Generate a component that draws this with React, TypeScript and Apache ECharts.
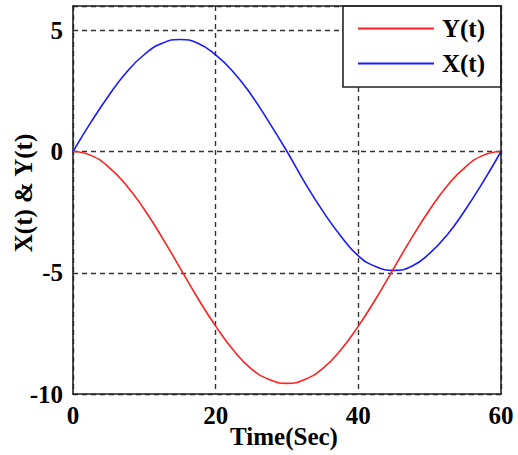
import React, { useEffect, useRef } from "react";
import * as echarts from "echarts";

// Sample times (s)
const times = [
  0, 2.5, 5, 7.5, 10, 12.5, 15, 17.5, 20, 22.5, 25, 27.5, 30,
  32.5, 35, 37.5, 40, 42.5, 45, 47.5, 50, 52.5, 55, 57.5, 60,
];

// Horizontal displacement X(t)
const xValues = [
  0, 1.2, 2.3, 3.27, 4.0, 4.46, 4.62, 4.46, 3.98, 3.27, 2.33, 1.2, 0,
  -1.28, -2.45, -3.47, -4.3, -4.75, -4.9, -4.73, -4.2, -3.42, -2.4, -1.25, 0,
];

// Vertical displacement Y(t)
const yValues = [
  0, -0.16, -0.64, -1.4, -2.39, -3.55, -4.8, -6.05, -7.2, -8.2, -8.96, -9.4, -9.56,
  -9.4, -8.95, -8.2, -7.2, -6.05, -4.8, -3.55, -2.4, -1.4, -0.64, -0.16, 0,
];

const xTicks = { min: 0, max: 60, interval: 20 };
const yTicks = { min: -10, max: 6, interval: 5 };

const FONT = "'Liberation Serif', 'Times New Roman', serif";

export default function App() {
  const ref = useRef<HTMLDivElement>(null);

  useEffect(() => {
    if (!ref.current) return;
    const chart = echarts.init(ref.current, undefined, { renderer: "svg" });

    const labelStyle = {
      fontFamily: FONT,
      fontWeight: "bold" as const,
      fontSize: 25,
      color: "#000",
    };
    const dashed = {
      show: true,
      lineStyle: { color: "#333", type: [5, 4] as number[], width: 1.4 },
    };
    const border = {
      show: true,
      onZero: false,
      lineStyle: { color: "#222", width: 1.6 },
    };

    chart.setOption({
      animation: false,
      backgroundColor: "#fff",
      grid: {
        left: 73,
        right: 17,
        top: 6,
        bottom: 61,
        containLabel: false,
        outerBoundsMode: "none",
      },
      legend: {
        orient: "vertical",
        right: 17,
        top: 6,
        data: ["Y(t)", "X(t)"],
        icon: "rect",
        backgroundColor: "#fff",
        borderColor: "#222",
        borderWidth: 1.6,
        borderRadius: 0,
        padding: [10, 16, 11, 15],
        itemGap: 10,
        itemWidth: 76,
        itemHeight: 2,
        textStyle: { ...labelStyle, lineHeight: 25, padding: [0, 0, 0, 3] },
      },
      xAxis: [
        {
          type: "value",
          position: "bottom",
          min: xTicks.min,
          max: xTicks.max,
          interval: xTicks.interval,
          name: "Time(Sec)",
          nameLocation: "middle",
          nameGap: 30,
          nameMoveOverlap: false,
          nameTextStyle: { ...labelStyle, padding: [0, 6, 0, 0] },
          axisLine: border,
          axisTick: { show: false },
          axisLabel: { ...labelStyle, margin: 9 },
          splitLine: dashed,
        },
        {
          type: "value",
          position: "top",
          min: xTicks.min,
          max: xTicks.max,
          interval: xTicks.interval,
          z: 5,
          axisLine: border,
          axisTick: { show: false },
          axisLabel: { show: false },
          splitLine: { show: false },
        },
      ],
      yAxis: [
        {
          type: "value",
          position: "left",
          min: yTicks.min,
          max: yTicks.max,
          interval: yTicks.interval,
          name: "X(t) & Y(t)",
          nameLocation: "middle",
          nameGap: 37,
          nameMoveOverlap: false,
          nameTextStyle: { ...labelStyle, padding: [0, 0, 0, 14] },
          axisLine: border,
          axisTick: { show: false },
          axisLabel: {
            ...labelStyle,
            margin: 10,
            formatter: (v: number) => (v === yTicks.max ? "" : String(v)),
          },
          splitLine: dashed,
        },
        {
          type: "value",
          position: "right",
          min: yTicks.min,
          max: yTicks.max,
          interval: yTicks.interval,
          z: 5,
          axisLine: border,
          axisTick: { show: false },
          axisLabel: { show: false },
          splitLine: { show: false },
        },
      ],
      series: [
        {
          name: "X(t)",
          type: "line",
          data: times.map((t, i) => [t, xValues[i]]),
          smooth: true,
          symbol: "none",
          lineStyle: { color: "#1a1aff", width: 1.6 },
          itemStyle: { color: "#1a1aff" },
        },
        {
          name: "Y(t)",
          type: "line",
          data: times.map((t, i) => [t, yValues[i]]),
          smooth: true,
          symbol: "none",
          lineStyle: { color: "#ff2020", width: 1.6 },
          itemStyle: { color: "#ff2020" },
        },
      ],
    });

    return () => chart.dispose();
  }, []);

  return (
    <div
      ref={ref}
      style={{ position: "absolute", left: 0, top: 0, width: 518, height: 455 }}
    />
  );
}
